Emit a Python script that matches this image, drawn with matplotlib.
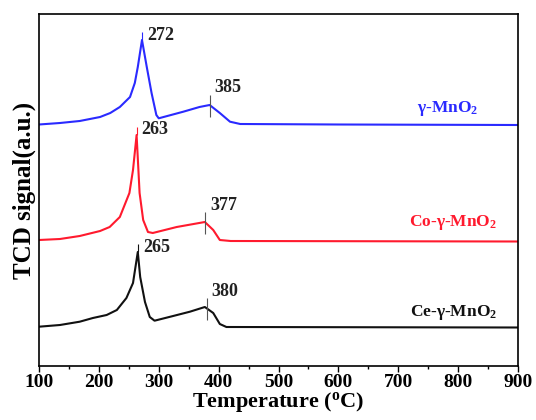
import matplotlib
matplotlib.use("Agg")
import matplotlib.pyplot as plt
import numpy as np

# H2-TPR curves, signal in arbitrary units
temp_mno2 = [100, 135, 168, 202, 219, 235, 252, 260, 265, 272, 280, 288, 296,
             300, 341, 368, 385, 402, 419, 436, 600, 900]
sig_mno2 = [241.5, 243, 245, 249, 253, 259, 269, 283, 299, 326, 299, 273, 251,
            247.7, 254.3, 259, 261, 253, 244.3, 242, 241.5, 241]

temp_co = [100, 135, 168, 202, 218, 235, 251, 257, 263, 268, 274, 282, 290,
           330, 377, 391, 402, 420, 900]
sig_co = [126, 127, 130, 135, 139, 149, 173, 196, 231, 173, 146, 134, 133,
          139, 144, 136, 126, 125, 124.5]

temp_ce = [100, 135, 168, 190, 213, 230, 246, 257, 265, 269, 277, 285, 293,
           324, 352, 377, 391, 402, 413, 900]
sig_ce = [39.3, 41, 44.3, 48, 51, 56, 68, 83, 114, 89, 64, 49, 45.3,
          50, 54.3, 59, 53, 42, 39, 38.5]

names = [r"$\gamma$-MnO$_\mathbf{2}$", r"Co-$\gamma$-MnO$_\mathbf{2}$",
         r"Ce-$\gamma$-MnO$_\mathbf{2}$"]
colors = ["#2a2aff", "#ff1a2e", "#111111"]
peak_main = [272, 263, 265]
peak_hump = [385, 377, 380]
xticks = [100, 200, 300, 400, 500, 600, 700, 800, 900]

plt.rcParams.update({
    "font.family": "Liberation Serif",
    "font.weight": "bold",
    "axes.labelweight": "bold",
    "mathtext.fontset": "custom",
    "mathtext.rm": "Liberation Serif:bold",
    "mathtext.it": "Liberation Serif:bold",
    "mathtext.bf": "Liberation Serif:bold",
})

fig = plt.figure(figsize=(5.36, 4.2), dpi=100)
ax = fig.add_axes([39 / 536, 54 / 420, 479 / 536, 352 / 420])

curves = [(temp_mno2, sig_mno2), (temp_co, sig_co), (temp_ce, sig_ce)]
for (t, s), c, name, pm, ph in zip(curves, colors, names, peak_main, peak_hump):
    ax.plot(t, s, color=c, lw=1.5)
    # main peak marker + label
    ym = np.interp(pm, t, s)
    ax.vlines(pm, ym, ym + 8, color=c, lw=0.8)
    ax.annotate(str(pm), (pm, ym + 8), textcoords="offset pixels",
                xytext=(5, -3), ha="left", va="center", fontsize=13,
                color="#222222")
    # second peak marker + label
    yh = np.interp(ph, t, s)
    ax.vlines(ph, yh - 12, yh + 10, color="#555555", lw=0.8)
    ax.annotate(str(ph), (ph, yh + 10), textcoords="offset pixels",
                xytext=(5, 7), ha="left", va="center", fontsize=13,
                color="#222222")

# sample names on the right
ax.text(833, 258, names[0], color=colors[0], ha="right", va="center", fontsize=12.5)
ax.text(865, 143, names[1], color=colors[1], ha="right", va="center", fontsize=12.5)
ax.text(865, 53, names[2], color=colors[2], ha="right", va="center", fontsize=12.5)

ax.set_xlim(100, 900)
ax.set_ylim(0, 352)
ax.set_xticks(xticks)
ax.set_xticks(np.arange(150, 900, 100), minor=True)
ax.set_yticks([])
ax.tick_params(axis="x", which="major", direction="out", length=4, width=1,
               labelsize=14, pad=2)
ax.tick_params(axis="x", which="minor", direction="out", length=2.5, width=1)
for sp in ax.spines.values():
    sp.set_linewidth(1.2)

ax.set_xlabel(r"Temperature ($^\mathbf{o}$C)", fontsize=16, labelpad=-1)
ax.set_ylabel("TCD signal(a.u.)", fontsize=18, labelpad=2)

fig.savefig("out.png", dpi=100)
